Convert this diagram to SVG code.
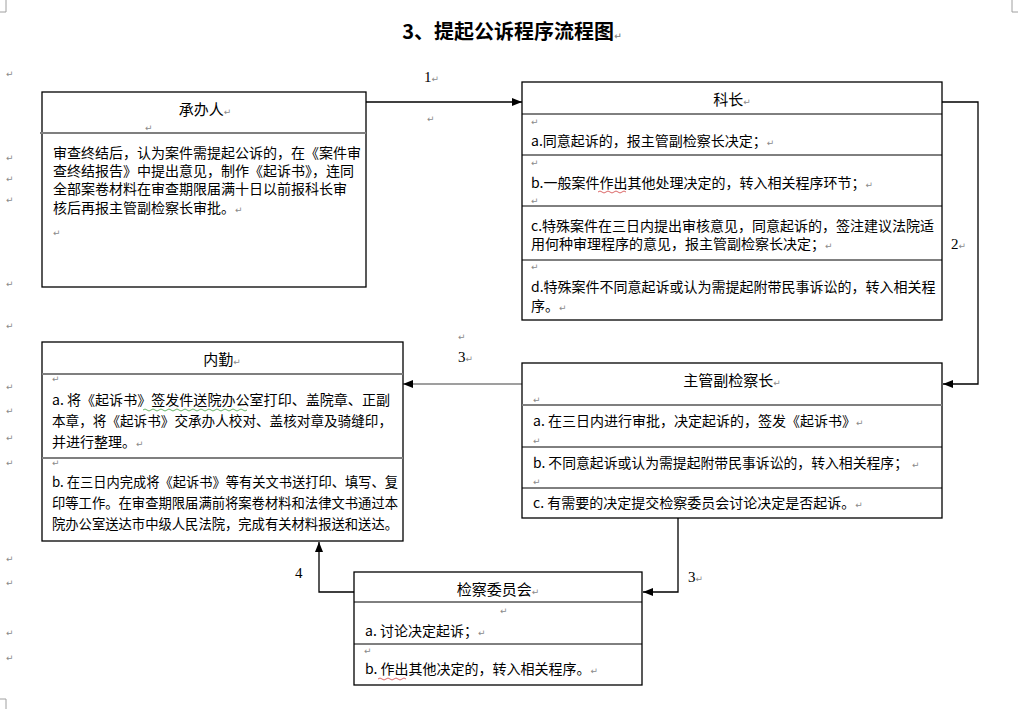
<svg xmlns="http://www.w3.org/2000/svg" width="1018" height="709" viewBox="0 0 1018 709">
<style>
.bx{fill:#fff;stroke:#000;stroke-width:1.3}
.sp{stroke:#000;stroke-width:1}
.sg{stroke:#7f7f7f;stroke-width:2}
.t{font-family:"Noto Sans CJK SC","Noto Sans",sans-serif;font-size:14px;fill:#000}
.h{font-family:"Noto Sans CJK SC","Noto Sans",sans-serif;font-size:15px;fill:#000;text-anchor:middle}
.ttl{font-family:"Noto Sans CJK SC",sans-serif;font-size:20px;font-weight:bold;fill:#000;text-anchor:middle}
.num{font-family:"Liberation Serif",serif;font-size:15px;fill:#000}
.pm{font-family:"DejaVu Sans",sans-serif;font-size:9px;fill:#8a8a8a}
.cn{fill:none;stroke:#000;stroke-width:1.3}
.cg{fill:none;stroke:#7f7f7f;stroke-width:1.3}
.wr{fill:none;stroke:#d04040;stroke-width:0.8}
.wg{fill:none;stroke:#40a040;stroke-width:0.8}
.cm{fill:none;stroke:#a0a0a0;stroke-width:1}
</style>
<defs>
<marker id="ah" markerUnits="userSpaceOnUse" markerWidth="10" markerHeight="8" refX="10" refY="4" orient="auto">
<path d="M0,0 L10,4 L0,8 z" fill="#000"/>
</marker>
</defs>
<rect width="1018" height="709" fill="#fff"/>
<g id="page-marks">
<path class="cm" d="M0,12 H6 V0"/>
<path class="cm" d="M1018,12 H1012 V0"/>
<path class="cm" d="M0,699 H6 V709"/>
<g class="pm">
<text x="6" y="77">↵</text><text x="6" y="161">↵</text><text x="6" y="182">↵</text><text x="6" y="203">↵</text>
<text x="6" y="287">↵</text><text x="6" y="329">↵</text><text x="6" y="390">↵</text><text x="6" y="414">↵</text>
<text x="6" y="441">↵</text><text x="6" y="466">↵</text><text x="6" y="562">↵</text><text x="6" y="586">↵</text>
<text x="6" y="636">↵</text><text x="6" y="661">↵</text>
</g>
</g>
<g id="title">
<text class="ttl" x="512" y="39">3、提起公诉程序流程图<tspan class="pm">↵</tspan></text>
</g>
<g id="connectors">
<line class="cn" x1="366" y1="102" x2="522" y2="102" marker-end="url(#ah)"/>
<polyline class="cn" points="942,102 978,102 978,384 943,384" marker-end="url(#ah)"/>
<line class="cg" x1="522" y1="384" x2="403" y2="384" marker-end="url(#ah)"/>
<polyline class="cn" points="678,518 678,592 643,592" marker-end="url(#ah)"/>
<polyline class="cn" points="354,592 319,592 319,542" marker-end="url(#ah)"/>
<text class="num" x="424" y="82">1<tspan class="pm">↵</tspan></text>
<text class="pm" x="427" y="122">↵</text>
<text class="num" x="951" y="249">2<tspan class="pm">↵</tspan></text>
<text class="pm" x="458" y="340">↵</text>
<text class="num" x="458" y="362">3<tspan class="pm">↵</tspan></text>
<text class="num" x="688" y="582">3<tspan class="pm">↵</tspan></text>
<text class="num" x="295" y="578">4</text>
</g>
<g id="node-chengbanren">
<rect class="bx" x="42" y="92" width="324" height="195"/>
<line class="sg" x1="40" y1="133" x2="366" y2="133"/>
<text class="h" x="205" y="115">承办人<tspan class="pm">↵</tspan></text>
<text class="pm" x="145" y="131">↵</text>
<text class="t" x="53" y="158">审查终结后，认为案件需提起公诉的，在《案件审</text>
<text class="t" x="53" y="176">查终结报告》中提出意见，制作《起诉书》，连同</text>
<text class="t" x="53" y="194">全部案卷材料在审查期限届满十日以前报科长审</text>
<text class="t" x="53" y="213">核后再报主管副检察长审批。<tspan class="pm">↵</tspan></text>
<text class="pm" x="53" y="236">↵</text>
</g>
<g id="node-kezhang">
<rect class="bx" x="522" y="82" width="420" height="238"/>
<line class="sp" x1="522" y1="114" x2="942" y2="114"/>
<line class="sp" x1="522" y1="155" x2="942" y2="155"/>
<line class="sp" x1="522" y1="206" x2="942" y2="206"/>
<line class="sp" x1="522" y1="260" x2="942" y2="260"/>
<text class="h" x="732" y="105">科长<tspan class="pm">↵</tspan></text>
<text class="pm" x="531" y="125">↵</text>
<text class="t" x="531" y="146">a.同意起诉的，报主管副检察长决定；<tspan class="pm">↵</tspan></text>
<text class="pm" x="531" y="166">↵</text>
<text class="t" x="531" y="188">b.一般案件作出其他处理决定的，转入相关程序环节；<tspan class="pm">↵</tspan></text>
<path class="wr" d="M598,192 q2,-2 4,0 t4,0 t4,0 t4,0 t4,0 t4,0 t4,0"/>
<text class="pm" x="531" y="204">↵</text>
<text class="t" x="531" y="231">c.特殊案件在三日内提出审核意见，同意起诉的，签注建议法院适</text>
<text class="t" x="531" y="249">用何种审理程序的意见，报主管副检察长决定；<tspan class="pm">↵</tspan></text>
<text class="pm" x="531" y="270">↵</text>
<text class="t" x="531" y="292">d.特殊案件不同意起诉或认为需提起附带民事诉讼的，转入相关程</text>
<text class="t" x="531" y="311">序。<tspan class="pm">↵</tspan></text>
</g>
<g id="node-zhuguan">
<rect class="bx" x="522" y="363" width="420" height="155"/>
<line class="sg" x1="522" y1="405" x2="942" y2="405"/>
<line class="sp" x1="522" y1="447" x2="942" y2="447"/>
<line class="sp" x1="522" y1="488" x2="942" y2="488"/>
<text class="h" x="732" y="386">主管副检察长<tspan class="pm">↵</tspan></text>
<text class="pm" x="533" y="403">↵</text>
<text class="t" x="533" y="426">a. 在三日内进行审批，决定起诉的，签发《起诉书》<tspan class="pm">↵</tspan></text>
<text class="pm" x="533" y="444">↵</text>
<text class="t" x="533" y="468" textLength="375" lengthAdjust="spacingAndGlyphs">b. 不同意起诉或认为需提起附带民事诉讼的，转入相关程序；</text>
<text class="pm" x="912" y="468">↵</text>
<text class="pm" x="533" y="485">↵</text>
<text class="t" x="533" y="508">c. 有需要的决定提交检察委员会讨论决定是否起诉。<tspan class="pm">↵</tspan></text>
</g>
<g id="node-neiqin">
<rect class="bx" x="42" y="342" width="361" height="199"/>
<line class="sg" x1="42" y1="374" x2="403" y2="374"/>
<line class="sg" x1="42" y1="458" x2="403" y2="458"/>
<text class="h" x="222" y="365">内勤<tspan class="pm">↵</tspan></text>
<text class="pm" x="52" y="382">↵</text>
<text class="t" x="52" y="405" textLength="338" lengthAdjust="spacingAndGlyphs">a. 将《起诉书》签发件送院办公室打印、盖院章、正副</text>
<path class="wg" d="M143,410 q2,-2 4,0 t4,0 t4,0 t4,0 t4,0 t4,0 t4,0 t4,0 t4,0 t4,0 t4,0 t4,0 t4,0 t4,0 t4,0 t4,0 t4,0 t4,0 t4,0 t4,0 t4,0 t4,0 t4,0 t4,0 t4,0 t4,0"/>
<text class="t" x="52" y="426" textLength="340" lengthAdjust="spacingAndGlyphs">本章，将《起诉书》交承办人校对、盖核对章及骑缝印，</text>
<text class="t" x="52" y="447">并进行整理。<tspan class="pm">↵</tspan></text>
<text class="pm" x="52" y="466">↵</text>
<text class="t" x="52" y="487" textLength="346" lengthAdjust="spacingAndGlyphs">b. 在三日内完成将《起诉书》等有关文书送打印、填写、复</text>
<text class="t" x="52" y="508" textLength="346" lengthAdjust="spacingAndGlyphs">印等工作。在审查期限届满前将案卷材料和法律文书通过本</text>
<text class="t" x="52" y="529" textLength="346" lengthAdjust="spacingAndGlyphs">院办公室送达市中级人民法院，完成有关材料报送和送达。</text>
</g>
<g id="node-jianwei">
<rect class="bx" x="354" y="572" width="288" height="113"/>
<line class="sp" x1="354" y1="602" x2="642" y2="602"/>
<line class="sp" x1="354" y1="644" x2="642" y2="644"/>
<text class="h" x="498" y="595">检察委员会<tspan class="pm">↵</tspan></text>
<text class="pm" x="500" y="614">↵</text>
<text class="t" x="365" y="636">a. 讨论决定起诉；<tspan class="pm">↵</tspan></text>
<text class="pm" x="364" y="654">↵</text>
<text class="t" x="365" y="674">b. 作出其他决定的，转入相关程序。<tspan class="pm">↵</tspan></text>
<path class="wr" d="M378,679 q2,-2 4,0 t4,0 t4,0 t4,0 t4,0 t4,0 t4,0"/>
</g>
</svg>
